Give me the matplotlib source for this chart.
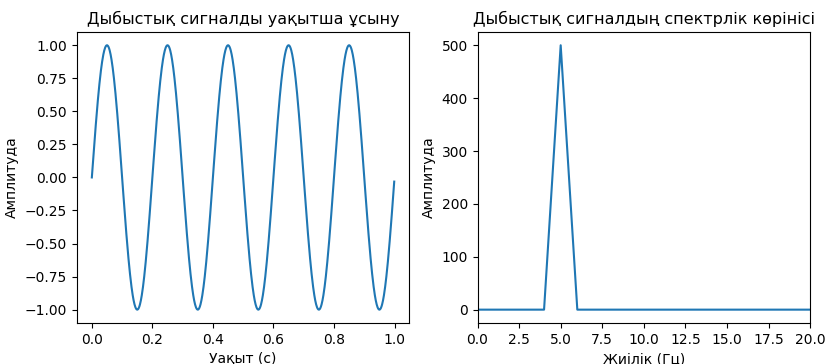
import numpy as np
import matplotlib
matplotlib.use('Agg')
import matplotlib.pyplot as plt

# параметры сигнала
sample_rate = 1000      # Гц
duration = 1.0          # с
tone_freq = 5           # Гц
amplitude = 1.0

t = np.arange(0, duration, 1 / sample_rate)
signal = amplitude * np.sin(2 * np.pi * tone_freq * t)

# спектр
spectrum = np.abs(np.fft.fft(signal))
freqs = np.fft.fftfreq(len(signal), 1 / sample_rate)
half = len(signal) // 2

freq_ticks = [0, 2.5, 5, 7.5, 10, 12.5, 15, 17.5, 20]

fig = plt.figure(figsize=(8.25, 3.64), dpi=100)
plt.subplots_adjust(left=0.093, right=0.982, top=0.912, bottom=0.113, wspace=0.205)

plt.subplot(1, 2, 1)
plt.plot(t, signal)
plt.title('Дыбыстық сигналды уақытша ұсыну', fontsize=11.5)
plt.xlabel('Уақыт (с)')
plt.ylabel('Амплитуда')

plt.subplot(1, 2, 2)
plt.plot(freqs[:half], spectrum[:half])
plt.title('Дыбыстық сигналдың спектрлік көрінісі', fontsize=11.5)
plt.xlabel('Жиілік (Гц)')
plt.ylabel('Амплитуда')
plt.xlim(0, 20)
plt.xticks(freq_ticks, [f'{v:.1f}' for v in freq_ticks])

plt.savefig('out.png', dpi=100)
